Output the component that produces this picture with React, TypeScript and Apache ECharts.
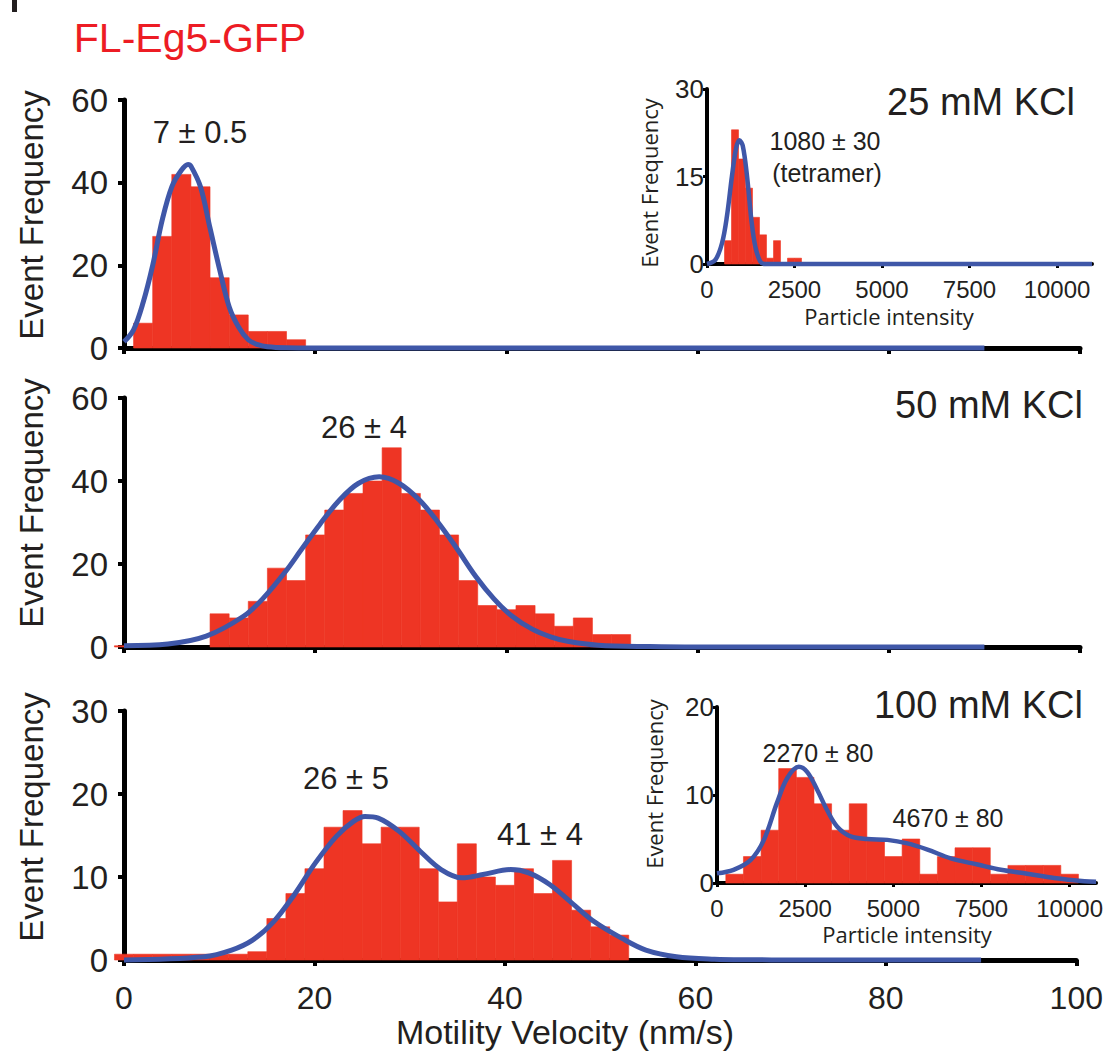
import React, { useEffect, useRef } from "react";
import * as echarts from "echarts";

// ---------- data ----------
// Top panel: 25 mM KCl velocity histogram (bin width 2 nm/s)
const topBinCenters = [2, 4, 6, 8, 10, 12, 14, 16, 18];
const topCounts = [6, 27, 42, 39, 17, 8, 4, 4, 2];
const topFitX = [0, 1, 2, 3, 4, 5, 6, 6.7, 7, 8, 9, 10, 11, 12, 13, 14, 15, 17, 20, 30, 45, 60, 75, 90];
const topFitY = [1.5, 4.4, 11, 20, 31, 39, 43, 44.4, 44, 39, 29, 19, 10, 5, 2, 0.8, 0.3, 0.05, 0, 0, 0, 0, 0, 0];

// Middle panel: 50 mM KCl
const midBinCenters = [0, 10, 12, 14, 16, 18, 20, 22, 24, 26, 28, 30, 32, 34, 36, 38, 40, 42, 44, 46, 48, 50, 52];
const midCounts = [0.3, 8, 7, 11, 19, 16, 27, 33, 37, 40, 48, 37, 33, 27, 16, 10, 9, 10, 8, 5, 7, 3, 3];
const midFitX = [0, 4.6, 8.6, 12.5, 14.5, 16.9, 18.5, 20.5, 22.5, 24.5, 26.7, 28.8, 30.9, 32.8, 34.8, 36.8, 38.7, 40.5, 42.7, 44.7, 46.4, 49.6, 55, 60, 70, 80, 90];
const midFitY = [0.3, 0.7, 2.6, 7.4, 11.6, 18.2, 23.3, 29.6, 35.3, 39.4, 41, 39.4, 35.4, 30.2, 23.8, 17.0, 11.6, 7.6, 4.3, 2.4, 1.4, 0.45, 0.1, 0, 0, 0, 0];

// Bottom panel: 100 mM KCl
const botBinCenters = [0, 2, 4, 6, 8, 10, 12, 14, 16, 18, 20, 22, 24, 26, 28, 30, 32, 34, 36, 38, 40, 42, 44, 46, 48, 50, 52];
const botCounts = [0.7, 0.7, 0.7, 0.7, 0.7, 0.7, 0.7, 1, 5, 8, 11, 16, 18, 14, 16, 16, 11, 7, 14, 10, 9, 11, 8, 12, 6, 4, 3];
const botFitX = [0, 8.4, 11.3, 13.5, 15.7, 17.9, 20.1, 22.3, 24.1, 25.3, 26.7, 28.9, 31.1, 33.3, 35.5, 37.7, 40.6, 42.5, 44.7, 46.8, 49.4, 52.3, 54.8, 58, 62, 66, 70, 80, 90];
const botFitY = [0, 0.4, 1.2, 2.4, 4.6, 7.9, 11.7, 14.9, 16.7, 17.3, 17.1, 15.5, 13.1, 10.9, 9.9, 10.3, 10.9, 10.5, 9.1, 7.1, 4.6, 2.6, 1.2, 0.4, 0.1, 0.03, 0, 0, 0];

// Inset 1: particle intensity, 25 mM KCl (bin width 200)
const in1BinCenters = [600, 800, 1000, 1200, 1400, 1600, 1800, 2000, 2400, 2600];
const in1Counts = [4, 23, 18, 13, 8, 5, 1, 4, 1, 1];
const in1FitX = [0, 238, 430, 570, 714, 830, 924, 1020, 1143, 1267, 1380, 1524, 1667, 2000, 4000, 6000, 8000, 10000, 11000];
const in1FitY = [0, 0.7, 3.6, 8.2, 15.1, 19.8, 21.2, 20.3, 15.1, 7.6, 3.0, 0.4, 0, 0, 0, 0, 0, 0, 0];

// Inset 2: particle intensity, 100 mM KCl (bin width 500)
const in2BinCenters = [500, 1000, 1500, 2000, 2500, 3000, 3500, 4000, 4500, 5000, 5500, 6000, 6500, 7000, 7500, 8000, 8500, 9000, 9500, 10000];
const in2Counts = [1, 3, 6, 13, 12, 9, 6, 9, 5, 3, 5, 1, 3, 4, 4, 1, 2, 2, 2, 1];
const in2FitX = [0, 470, 950, 1330, 1700, 1990, 2320, 2560, 2840, 3120, 3410, 3790, 4260, 4830, 5400, 5970, 6630, 7390, 8050, 8800, 9560, 10420, 10750];
const in2FitY = [1.1, 1.5, 2.6, 4.9, 9.1, 11.9, 13.2, 12.6, 10.6, 8.3, 6.4, 5.3, 5.0, 4.9, 4.5, 3.8, 2.8, 2.1, 1.5, 1.06, 0.57, 0.2, 0.15];

const insetXTicks = [0, 2500, 5000, 7500, 10000];

// ---------- styles ----------
const RED = "#ee3524";
const BLUE = "#3f57a8";
const INK = "#231f20";
const ARIAL = "'Liberation Sans', Arial, sans-serif";
const HUMAN = "'Open Sans', 'Noto Sans', sans-serif";

const binsOf = (centers: number[], counts: number[], w: number) =>
  centers.map((c, i) => [c - w / 2, c + w / 2, counts[i]]);
const pairs = (xs: number[], ys: number[]) => xs.map((x, i) => [x, ys[i]]);

const renderBar = (_p: any, api: any) => {
  const a = api.coord([api.value(0), api.value(2)]);
  const b = api.coord([api.value(1), 0]);
  return {
    type: "rect",
    shape: { x: a[0], y: a[1], width: b[0] - a[0], height: b[1] - a[1] },
    style: { fill: RED, stroke: RED, lineWidth: 0.6 },
  };
};

const histSeries = (data: number[][], idx: number) => ({
  type: "custom",
  xAxisIndex: idx,
  yAxisIndex: idx,
  renderItem: renderBar,
  encode: { x: [0, 1], y: 2 },
  data,
  clip: false,
  z: 3,
});

const fitSeries = (data: number[][], idx: number, w: number) => ({
  type: "line",
  xAxisIndex: idx,
  yAxisIndex: idx,
  data,
  smooth: 0.35,
  symbol: "none",
  showSymbol: false,
  clip: false,
  lineStyle: { color: BLUE, width: w },
  z: 5,
});

const mainX = (idx: number, showLabels: boolean) => ({
  type: "value",
  gridIndex: idx,
  min: 0,
  max: 100,
  interval: 20,
  splitLine: { show: false },
  axisLine: { show: true, onZero: false, lineStyle: { color: "#000", width: 5 } },
  axisTick: { show: true, length: 6, lineStyle: { color: "#000", width: 4 } },
  axisLabel: {
    show: showLabels,
    margin: 22,
    fontSize: 32,
    color: INK,
    fontFamily: ARIAL,
  },
});

const mainY = (idx: number, max: number, interval: number) => ({
  type: "value",
  gridIndex: idx,
  min: 0,
  max,
  interval,
  splitLine: { show: false },
  axisLine: { show: true, onZero: false, lineStyle: { color: "#000", width: 5 } },
  axisTick: { show: true, length: 6, lineStyle: { color: "#000", width: 4 } },
  axisLabel: { margin: 16, fontSize: 33, color: INK, fontFamily: ARIAL },
});

const insetX = (idx: number, max: number) => ({
  type: "value",
  gridIndex: idx,
  min: 0,
  max,
  splitLine: { show: false },
  axisLine: { show: true, onZero: false, lineStyle: { color: "#000", width: 4 } },
  axisTick: { show: true, length: 4, customValues: insetXTicks, lineStyle: { color: "#000", width: 3 } },
  axisLabel: {
    customValues: insetXTicks,
    formatter: (v: number) => String(v),
    margin: 13,
    fontSize: 24,
    color: INK,
    fontFamily: ARIAL,
  },
});

const insetY = (idx: number, max: number, interval: number) => ({
  type: "value",
  gridIndex: idx,
  min: 0,
  max,
  interval,
  splitLine: { show: false },
  axisLine: { show: true, onZero: false, lineStyle: { color: "#000", width: 4 } },
  axisTick: { show: true, length: 4, lineStyle: { color: "#000", width: 3 } },
  axisLabel: { margin: 3, fontSize: 26, color: INK, fontFamily: ARIAL },
});

const txt = (
  text: string,
  x: number,
  y: number,
  size: number,
  opts: { fill?: string; font?: string; align?: string; rotate?: boolean } = {}
) => ({
  type: "text",
  x,
  y,
  rotation: opts.rotate ? Math.PI / 2 : 0,
  z: 10,
  style: {
    text,
    fill: opts.fill || INK,
    fontSize: size,
    fontFamily: opts.font || ARIAL,
    align: opts.align || "center",
    verticalAlign: "middle",
  },
});

export default function App() {
  const ref = useRef<HTMLDivElement>(null);

  useEffect(() => {
    if (!ref.current) return;
    const chart = echarts.init(ref.current, undefined, { renderer: "svg" });

    const option: any = {
      animation: false,
      backgroundColor: "#ffffff",
      textStyle: { fontFamily: ARIAL },
      grid: [
        { left: 124, top: 100, width: 956, height: 248 },
        { left: 124, top: 398, width: 956, height: 249 },
        { left: 124, top: 711, width: 956, height: 249 },
        { left: 707, top: 89, width: 385, height: 175 },
        { left: 717, top: 707, width: 387, height: 176 },
      ],
      xAxis: [
        mainX(0, false),
        mainX(1, false),
        mainX(2, true),
        insetX(3, 11000),
        insetX(4, 10750),
      ],
      yAxis: [
        mainY(0, 60, 20),
        mainY(1, 60, 20),
        mainY(2, 30, 10),
        insetY(3, 30, 15),
        insetY(4, 20, 10),
      ],
      series: [
        histSeries(binsOf(topBinCenters, topCounts, 2), 0),
        fitSeries(pairs(topFitX, topFitY), 0, 5),
        histSeries(binsOf(midBinCenters, midCounts, 2), 1),
        fitSeries(pairs(midFitX, midFitY), 1, 5),
        histSeries(binsOf(botBinCenters, botCounts, 2), 2),
        fitSeries(pairs(botFitX, botFitY), 2, 5),
        histSeries(binsOf(in1BinCenters, in1Counts, 200), 3),
        fitSeries(pairs(in1FitX, in1FitY), 3, 4.5),
        histSeries(binsOf(in2BinCenters, in2Counts, 500), 4),
        fitSeries(pairs(in2FitX, in2FitY), 4, 4.5),
      ],
      graphic: [
        { type: "rect", shape: { x: 12, y: 0, width: 5, height: 12 }, style: { fill: INK } },
        txt("FL-Eg5-GFP", 190, 38, 41, { fill: "#ed1c24" }),
        txt("Event Frequency", 31, 215, 33, { rotate: true }),
        txt("Event Frequency", 31, 503, 33, { rotate: true }),
        txt("Event Frequency", 31, 817, 33, { rotate: true }),
        txt("Motility Velocity (nm/s)", 565, 1032, 34),
        txt("7 ± 0.5", 200, 132, 31),
        txt("26 ± 4", 364, 427, 31),
        txt("26 ± 5", 346, 778, 31),
        txt("41 ± 4", 540, 834, 31),
        txt("25 mM KCl", 1075, 102, 38, { align: "right" }),
        txt("50 mM KCl", 1083, 405, 38, { align: "right" }),
        txt("100 mM KCl", 1083, 705, 38, { align: "right" }),
        txt("1080 ± 30", 825, 141, 25),
        txt("(tetramer)", 827, 173, 25),
        txt("2270 ± 80", 818, 753, 25),
        txt("4670 ± 80", 948, 818, 25),
        txt("Event Frequency", 649, 183, 22, { rotate: true, font: HUMAN }),
        txt("Particle intensity", 889, 316, 22, { font: HUMAN }),
        txt("Event Frequency", 654, 784, 22, { rotate: true, font: HUMAN }),
        txt("Particle intensity", 907, 934, 22, { font: HUMAN }),
      ],
    };

    chart.setOption(option);
    return () => chart.dispose();
  }, []);

  return (
    <div
      ref={ref}
      style={{ position: "absolute", left: 0, top: 0, width: 1106, height: 1052 }}
    />
  );
}
